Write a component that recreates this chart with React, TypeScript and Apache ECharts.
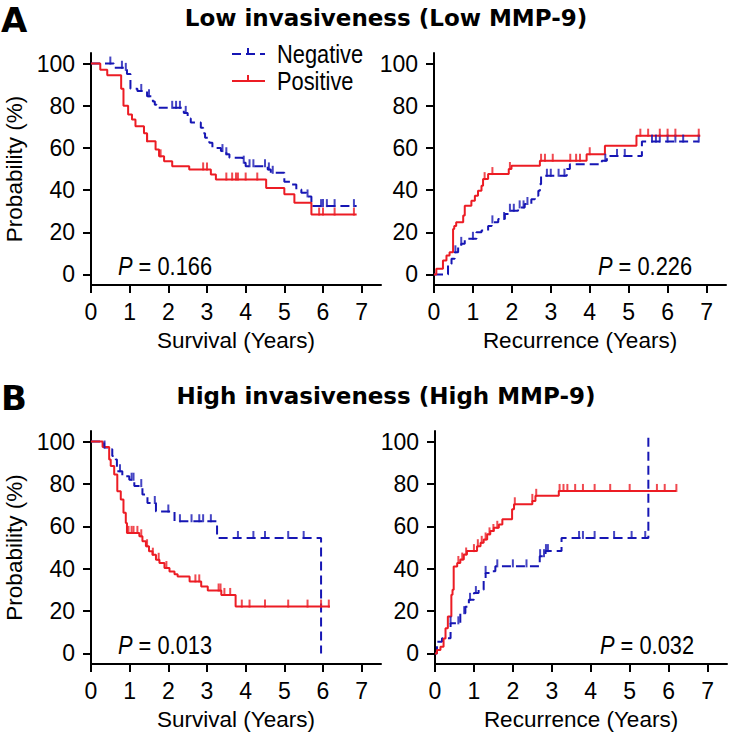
import React, { useEffect, useRef } from 'react';
import * as echarts from 'echarts';

type Pt = [number, number];

const FONT = '"Liberation Sans", Arial, sans-serif';
const TITLE_FONT = '"DejaVu Sans", sans-serif';
const RED = '#ec1c24';
const BLUE = '#1616b4';

const xTicks = [0, 1, 2, 3, 4, 5, 6, 7];
const yTicks = [0, 20, 40, 60, 80, 100];

const panelTitles = ['Low invasiveness (Low MMP-9)', 'High invasiveness (High MMP-9)'];
const panelLetters = ['A', 'B'];
const xNames = ['Survival (Years)', 'Recurrence (Years)'];
const legendNames = ['Negative', 'Positive'];
const pValues = ['0.166', '0.226', '0.013', '0.032'];

// Panel A, left: survival, low MMP-9
const lowSurvNeg: Pt[] = [[0,100],[0.59,98],[0.85,97],[0.93,95],[1.02,88],[1.2,87],[1.45,84.5],[1.6,82],[1.65,80.5],[1.7,79],[2.4,76.6],[2.5,74],[2.58,72],[2.84,69.5],[2.9,67],[2.95,64.8],[3.06,62.4],[3.14,60],[3.36,58.5],[3.5,57],[3.58,55.3],[3.92,53],[4.0,51.3],[4.57,49.8],[4.65,48.2],[5.0,44],[5.18,42.7],[5.31,40.3],[5.44,38.7],[5.57,37],[5.7,32.4],[6.87,32.4]];
const lowSurvNegCens = [0.5, 0.8, 0.9, 1.3, 1.5, 2.1, 2.2, 2.3, 2.45, 3.4, 3.5, 3.95, 4.1, 4.2, 4.5, 4.6, 4.7, 5.6, 5.95, 6.0, 6.1, 6.3, 6.8];
const lowSurvPos: Pt[] = [[0,100],[0.24,97],[0.42,94.5],[0.78,88],[0.84,80],[0.96,75.8],[1.06,73.5],[1.15,70.3],[1.37,67],[1.45,63.2],[1.67,59.2],[1.76,56],[1.89,53.7],[2.1,51.3],[2.54,49.8],[3.1,47.4],[3.23,45],[4.53,41],[5.0,38],[5.26,34],[5.7,28.4],[6.87,28.4]];
const lowSurvPosCens = [1.45, 1.8, 2.9, 3.0, 3.5, 3.65, 3.75, 3.8, 4.0, 4.3, 5.9, 6.0, 6.3, 6.8];

// Panel A, right: recurrence, low MMP-9
const lowRecNeg: Pt[] = [[0,0],[0.36,5],[0.45,7.4],[0.53,10.5],[0.62,13],[0.7,14.5],[0.79,16.9],[1.09,20],[1.22,20.8],[1.39,23],[1.48,24.7],[1.65,26.3],[1.82,28.7],[1.9,30.2],[2.16,31.8],[2.33,33.4],[2.5,35.7],[2.59,37.3],[2.68,39.7],[2.72,42.8],[2.75,46.8],[3.41,50],[3.49,52.3],[4.31,53.9],[4.44,56.2],[5.34,63],[6.8,63]];
const lowRecNegCens = [0.55, 0.7, 1.0, 1.5, 1.8, 1.95, 2.05, 2.2, 2.3, 2.4, 2.9, 3.0, 3.2, 3.35, 4.4, 4.7, 4.9, 5.6, 5.7, 5.8, 6.0, 6.2, 6.4, 6.8];
const lowRecPos: Pt[] = [[0,0],[0.06,2.7],[0.23,6.6],[0.32,9],[0.4,10.5],[0.49,21.6],[0.52,23],[0.57,24.7],[0.75,27.9],[0.79,32.6],[0.96,35],[1.05,37.3],[1.13,39.7],[1.22,42],[1.26,45.2],[1.39,47.6],[1.92,50],[1.99,51.5],[2.72,53.9],[3.92,57],[4.39,61],[5.2,65.8],[6.84,65.8]];
const lowRecPosCens = [1.3, 1.5, 1.95, 2.75, 2.85, 3.05, 3.5, 3.65, 3.75, 4.0, 5.3, 5.5, 5.8, 6.0, 6.2, 6.8];

// Panel B, left: survival, high MMP-9
const highSurvNeg: Pt[] = [[0,100],[0.34,97.2],[0.47,96.4],[0.55,93.2],[0.64,91.6],[0.67,86],[0.81,83.6],[0.99,82],[1.12,79],[1.33,75],[1.46,71],[1.68,67],[2.16,62.4],[3.26,54.5],[5.95,0]];
const highSurvNegCens = [0.35, 0.75, 1.05, 1.1, 1.3, 1.65, 2.0, 2.3, 2.6, 2.8, 2.9, 3.1, 3.8, 4.2, 4.5, 5.1, 5.5];
const highSurvPos: Pt[] = [[0,100],[0.3,97.5],[0.47,91.6],[0.51,88.5],[0.6,84.5],[0.68,76.6],[0.77,72.7],[0.84,66.4],[0.9,61.6],[0.93,56.9],[1.25,55.3],[1.33,53],[1.42,50.6],[1.5,48.2],[1.59,46.6],[1.68,44.2],[1.77,42.7],[1.9,40.3],[2.03,38.7],[2.16,37.4],[2.24,36.3],[2.55,34],[2.85,31.6],[3.02,29.7],[3.37,27.6],[3.74,22.1],[6.18,22.1]];
const highSurvPosCens = [0.97, 1.05, 1.1, 1.2, 1.3, 1.45, 1.6, 1.75, 1.95, 2.7, 2.8, 3.3, 3.35, 3.45, 3.6, 3.9, 4.1, 4.5, 5.1, 5.6, 5.95, 6.15];

// Panel B, right: recurrence, high MMP-9
const highRecNeg: Pt[] = [[0,0],[0.05,5.5],[0.18,7.1],[0.4,14.2],[0.65,19],[0.78,22],[0.87,25.3],[1.0,28.5],[1.12,30],[1.25,34.8],[1.3,38],[1.42,38.8],[1.55,41.1],[2.69,45.9],[2.84,48.3],[3.25,54.5],[5.48,102.5]];
const highRecNegCens = [0.4, 0.6, 0.75, 0.9, 1.05, 1.3, 1.6, 2.0, 2.35, 2.7, 2.8, 2.85, 2.9, 3.7, 3.8, 4.1, 4.6, 5.05, 5.4];
const highRecPos: Pt[] = [[0,0],[0.05,1.6],[0.14,3.2],[0.22,7],[0.27,11.9],[0.33,17.4],[0.42,27.7],[0.45,30],[0.48,41],[0.57,42.7],[0.65,44.3],[0.74,46.7],[0.82,48.3],[1.08,50.6],[1.17,52.2],[1.25,53.8],[1.34,56.2],[1.42,57.8],[1.51,59.3],[1.64,60.9],[1.73,63.3],[1.98,68],[2.03,70.4],[2.5,72],[2.58,74.4],[3.18,76.7],[6.19,76.7]];
const highRecPosCens = [0.6, 0.7, 0.8, 1.0, 1.1, 1.2, 1.3, 1.4, 1.5, 1.6, 2.05, 2.5, 2.6, 3.2, 3.3, 3.4, 3.6, 3.8, 4.1, 4.5, 5.0, 5.7, 5.9, 6.2];

const panels = [
  { neg: lowSurvNeg, negC: lowSurvNegCens, pos: lowSurvPos, posC: lowSurvPosCens },
  { neg: lowRecNeg, negC: lowRecNegCens, pos: lowRecPos, posC: lowRecPosCens },
  { neg: highSurvNeg, negC: highSurvNegCens, pos: highSurvPos, posC: highSurvPosCens },
  { neg: highRecNeg, negC: highRecNegCens, pos: highRecPos, posC: highRecPosCens },
];

const grids = [
  { left: 91, top: 53, width: 290, height: 232 },
  { left: 434, top: 53, width: 292, height: 232 },
  { left: 91, top: 431, width: 290, height: 233 },
  { left: 435, top: 431, width: 292, height: 233 },
];

function valueAt(steps: Pt[], t: number): number {
  let v = steps[0][1];
  for (const [x, y] of steps) {
    if (x <= t) v = y;
    else break;
  }
  return v;
}

const textBase = { fontFamily: FONT, fill: '#000', align: 'left', verticalAlign: 'middle', textAlign: 'left', textVerticalAlign: 'middle' };

function buildOption() {
  const xAxis: any[] = [];
  const yAxis: any[] = [];
  const series: any[] = [];
  grids.forEach((_, gi) => {
    xAxis.push({
      type: 'value', gridIndex: gi, min: 0, max: 7.5,
      name: xNames[gi % 2], nameLocation: 'middle', nameGap: 44,
      nameTextStyle: { fontSize: 22.5, color: '#000', fontFamily: FONT },
      axisLine: { show: true, onZero: false, lineStyle: { color: '#000', width: 2 } },
      axisTick: { show: true, length: 8, customValues: xTicks, lineStyle: { color: '#000', width: 2 } },
      axisLabel: { show: true, customValues: xTicks, fontSize: 23, color: '#000', fontFamily: FONT, margin: 15 },
      splitLine: { show: false },
    });
    yAxis.push({
      type: 'value', gridIndex: gi, min: -5, max: 105,
      name: gi % 2 === 0 ? 'Probability (%)' : '', nameLocation: 'middle', nameGap: 65,
      nameTextStyle: { fontSize: 22.5, color: '#000', fontFamily: FONT },
      axisLine: { show: true, onZero: false, lineStyle: { color: '#000', width: 2 } },
      axisTick: { show: true, length: 8, customValues: yTicks, lineStyle: { color: '#000', width: 2 } },
      axisLabel: { show: true, customValues: yTicks, fontSize: 23, color: '#000', fontFamily: FONT, margin: 16 },
      splitLine: { show: false },
    });
    const p = panels[gi];
    const groups = [
      { name: legendNames[0], steps: p.neg, cens: p.negC, color: BLUE, dash: [9, 5] as any },
      { name: legendNames[1], steps: p.pos, cens: p.posC, color: RED, dash: 'solid' as any },
    ];
    groups.forEach((g) => {
      series.push({
        type: 'line', name: g.name, xAxisIndex: gi, yAxisIndex: gi,
        data: g.steps, step: 'end', showSymbol: false, symbol: 'none',
        lineStyle: { color: g.color, width: 2, type: g.dash },
        z: g.color === RED ? 3 : 2,
      });
      series.push({
        type: 'scatter', name: g.name + ' censored', xAxisIndex: gi, yAxisIndex: gi,
        data: g.cens.map((t) => [t, valueAt(g.steps, t)]),
        symbol: 'rect', symbolSize: [2, 8], symbolOffset: [0, -3],
        itemStyle: { color: g.color },
        z: g.color === RED ? 4 : 3,
      });
    });
  });

  const pPos = [
    { x: 118, y: 266 }, { x: 598, y: 266 }, { x: 118, y: 645 }, { x: 600, y: 645 },
  ];
  const graphic: any[] = [];
  pPos.forEach((pp, i) => {
    graphic.push({
      type: 'text', x: pp.x, y: pp.y, scaleX: 0.84,
      style: {
        ...textBase,
        text: '{i|P}{n| = ' + pValues[i] + '}',
        rich: {
          i: { fontStyle: 'italic', fontSize: 26, fontFamily: FONT, fill: '#000' },
          n: { fontSize: 26, fontFamily: FONT, fill: '#000' },
        },
        fontSize: 26,
      },
    });
  });
  [18, 396].forEach((y, i) => {
    graphic.push({
      type: 'text', x: 386, y,
      style: {
        text: panelTitles[i], fontSize: 23, fontWeight: 'bold', fontFamily: TITLE_FONT, fill: '#000',
        align: 'center', verticalAlign: 'middle', textAlign: 'center', textVerticalAlign: 'middle',
      },
    });
    graphic.push({
      type: 'text', x: 1, y: y + 2,
      style: {
        text: panelLetters[i], fontSize: 34, fontWeight: 'bold', fontFamily: TITLE_FONT, fill: '#000',
        align: 'left', verticalAlign: 'middle', textAlign: 'left', textVerticalAlign: 'middle',
      },
    });
  });
  // legend
  const legendItems = [
    { y: 54, color: BLUE, dash: [9, 5], name: legendNames[0] },
    { y: 81, color: RED, dash: null, name: legendNames[1] },
  ];
  legendItems.forEach((li) => {
    graphic.push({
      type: 'line', shape: { x1: 232, y1: li.y, x2: 265, y2: li.y },
      style: { stroke: li.color, lineWidth: 2, lineDash: li.dash || undefined },
    });
    graphic.push({
      type: 'line', shape: { x1: 248, y1: li.y - 6, x2: 248, y2: li.y },
      style: { stroke: li.color, lineWidth: 2 },
    });
    graphic.push({
      type: 'text', x: 277, y: li.y, scaleX: 0.84,
      style: { ...textBase, text: li.name, fontSize: 26 },
    });
  });

  return {
    animation: false,
    backgroundColor: '#fff',
    grid: grids.map((g) => ({ ...g, containLabel: false })),
    xAxis, yAxis, series, graphic,
  };
}

export default function App() {
  const ref = useRef<HTMLDivElement>(null);
  useEffect(() => {
    if (!ref.current) return;
    const chart = echarts.init(ref.current, undefined, { renderer: 'svg' });
    chart.setOption(buildOption() as any);
    return () => chart.dispose();
  }, []);
  return (
    <div
      ref={ref}
      style={{ position: 'fixed', left: 0, top: 0, width: 730, height: 740, background: '#fff' }}
    />
  );
}
